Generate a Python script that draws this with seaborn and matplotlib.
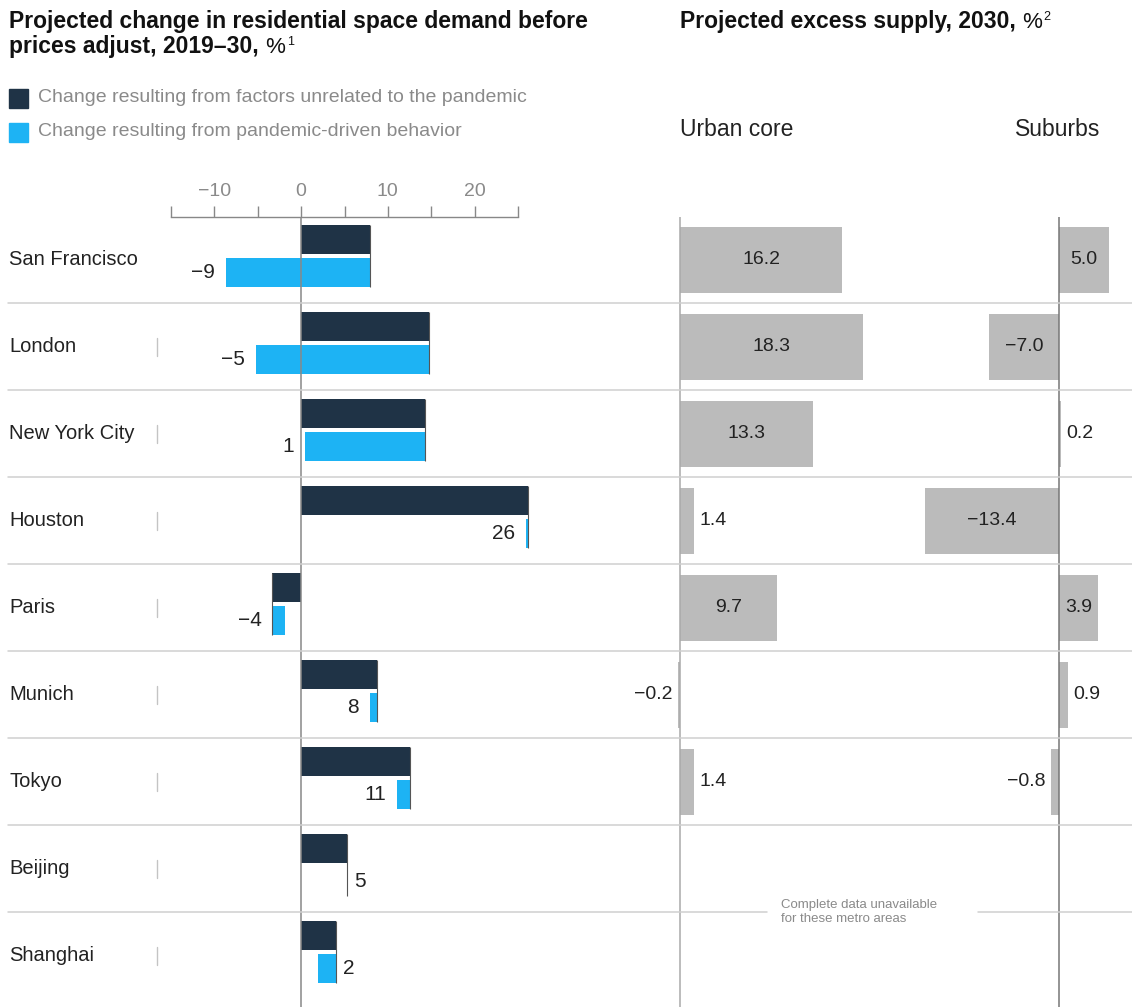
import numpy as np
import pandas as pd
import matplotlib
matplotlib.use("Agg")
import matplotlib.pyplot as plt
import seaborn as sns
from matplotlib.lines import Line2D
from matplotlib.patches import Rectangle
from matplotlib.transforms import blended_transform_factory

# ---- data ----
cities = ["San Francisco", "London", "New York City", "Houston", "Paris",
          "Munich", "Tokyo", "Beijing", "Shanghai"]
# change from factors unrelated to the pandemic (end of dark bar), %
base_change = [7.9, 14.7, 14.3, 26.2, -3.3, 8.7, 12.6, 5.3, 4.0]
# pandemic-driven bar, left and right ends, %
pandemic_lo = [-8.7, -5.2, 0.5, 25.9, -3.3, 7.9, 11.1, 5.3, 2.0]
pandemic_hi = [7.9, 14.7, 14.3, 26.2, -1.9, 8.7, 12.6, 5.3, 4.0]
net_labels = ["\u22129", "\u22125", "1", "26", "\u22124", "8", "11", "5", "2"]
net_label_side = ["l", "l", "l", "l", "l", "l", "l", "r", "r"]
# projected excess supply 2030, %
urban_core = [16.2, 18.3, 13.3, 1.4, 9.7, -0.2, 1.4, np.nan, np.nan]
suburbs = [5.0, -7.0, 0.2, -13.4, 3.9, 0.9, -0.8, np.nan, np.nan]

DARK = "#1f3346"
BLUE = "#1db3f4"
GREY = "#bbbbbb"
TXT = "#222222"
MUTED = "#8a8a8a"

W, H = 1132, 1007
sns.set_theme(style="white")
plt.rcParams["font.family"] = ["Liberation Sans", "DejaVu Sans"]

fig = plt.figure(figsize=(W / 100, H / 100), dpi=100)


def box(x0, y0, x1, y1):
    return [x0 / W, 1 - y1 / H, (x1 - x0) / W, (y1 - y0) / H]


row_top = 216.5
row_h = 87.0
y_bottom = -0.5 + (H - row_top) / row_h

ax = fig.add_axes(box(171, row_top, 518, H))
ax_u = fig.add_axes(box(560, row_top, 1050, H))
ax_s = fig.add_axes(box(880, row_top, 1132, H))

ypos = np.arange(len(cities))
lo = np.array(pandemic_lo)
hi = np.array(pandemic_hi)
base = np.array(base_change)

# ---- left panel ----
ax.barh(ypos - 0.236, base, height=0.333, color=DARK, linewidth=0, zorder=2, clip_on=False)
ax.barh(ypos + 0.144, hi - lo, left=lo, height=0.333, color=BLUE, linewidth=0,
        zorder=2, clip_on=False)
ax.vlines(base, ypos - 0.236 - 0.1665, ypos + 0.144 + 0.1665,
          color="#555555", lw=0.8, zorder=3, clip_on=False)
ax.axvline(0, color="#888888", lw=1.1, zorder=4)
for k, (lab, side) in enumerate(zip(net_labels, net_label_side)):
    if side == "l":
        ax.annotate(lab, (lo[k], k + 0.144), xytext=(-8, 0), textcoords="offset points",
                    ha="right", va="center", fontsize=15, color=TXT, annotation_clip=False)
    else:
        ax.annotate(lab, (hi[k], k + 0.144), xytext=(5, 0), textcoords="offset points",
                    ha="left", va="center", fontsize=15, color=TXT, annotation_clip=False)

ax.set_xlim(-15, 25)
ax.set_ylim(y_bottom, -0.5)
ax.xaxis.tick_top()
ax.set_xticks([-10, 0, 10, 20])
ax.set_xticklabels(["\u221210", "0", "10", "20"])
ax.set_xticks([-15, -5, 5, 15, 25], minor=True)
ax.tick_params(axis="x", which="both", direction="out", length=8, width=1,
               color="#888888", labelcolor=MUTED, labelsize=14, pad=4,
               top=True, bottom=False, labeltop=True, labelbottom=False)
ax.set_yticks([])
for s in ["left", "right", "bottom"]:
    ax.spines[s].set_visible(False)
ax.spines["top"].set_color("#888888")
ax.spines["top"].set_linewidth(1)
ax.set_facecolor("none")

# ---- right panels ----
df = pd.DataFrame({"city": cities, "urban": urban_core, "suburbs": suburbs})
for a, col, xl, axcol in [(ax_u, "urban", (-12, 37), "#aaaaaa"),
                          (ax_s, "suburbs", (-17.9, 7.3), "#777777")]:
    sub = df.dropna(subset=[col])
    sns.barplot(data=sub, x=col, y="city", order=cities, orient="h", color=GREY,
                saturation=1, width=0.76, errorbar=None, linewidth=0, ax=a)
    a.axvline(0, color=axcol, lw=1.1, zorder=3)
    a.set_xlim(*xl)
    a.set_ylim(y_bottom, -0.5)
    a.set_axis_off()
    for k, v in enumerate(df[col]):
        if np.isnan(v):
            continue
        if abs(v) >= 3.5:
            a.text(v / 2, k, f"{v:.1f}".replace("-", "\u2212"), ha="center", va="center",
                   fontsize=14, color=TXT)
        else:
            a.annotate(f"{v:.1f}".replace("-", "\u2212"), (v, k),
                       xytext=(4 if v >= 0 else -4, 0), textcoords="offset points",
                       ha="left" if v >= 0 else "right", va="center",
                       fontsize=14, color=TXT)

# ---- row labels, separators, tick marks ----
tr = blended_transform_factory(fig.transFigure, ax.transData)
for k, c in enumerate(cities):
    ax.text(9 / W, k, c, transform=tr, ha="left", va="center", fontsize=14.5, color=TXT)
    if k > 0:
        fig.add_artist(Line2D([157 / W, 157 / W], [k - 0.1, k + 0.1], transform=tr,
                              color="#c4c4c4", lw=1))
for k in range(len(cities) - 1):
    yb = k + 0.5
    segs = [(8, 767), (978, W)] if k == len(cities) - 2 else [(8, W)]
    for a0, b0 in segs:
        fig.add_artist(Line2D([a0 / W, b0 / W], [yb, yb], transform=tr,
                              color="#cfcfcf", lw=1.1, zorder=1))

fig.text(781 / W, 1 - 912 / H, "Complete data unavailable\nfor these metro areas",
         ha="left", va="center", fontsize=9.5, color=MUTED, linespacing=1.3)

# ---- titles and legend ----
renderer = fig.canvas.get_renderer()


def run(x_px, base_px, pieces):
    x = x_px
    for txt, size, weight, rise in pieces:
        t = fig.text(x / W, 1 - (base_px - rise) / H, txt, fontsize=size,
                     fontweight=weight, color="#111111", ha="left", va="baseline")
        x = t.get_window_extent(renderer=renderer).x1 + 1


run(9, 28, [("Projected change in residential space demand before", 16.5, "bold", 0)])
run(9, 53, [("prices adjust, 2019\u201330,", 16.5, "bold", 0),
            (" %", 16, "normal", 0), ("1", 9, "normal", 8)])
run(680, 28, [("Projected excess supply, 2030,", 16.5, "bold", 0),
              (" %", 16, "normal", 0), ("2", 9, "normal", 8)])

for i, (col, lab) in enumerate([(DARK, "Change resulting from factors unrelated to the pandemic"),
                                (BLUE, "Change resulting from pandemic-driven behavior")]):
    yc = 98 + 34 * i
    fig.add_artist(Rectangle((9 / W, 1 - (yc + 9.5) / H), 19 / W, 19 / H,
                             transform=fig.transFigure, color=col))
    fig.text(38 / W, 1 - yc / H, lab, ha="left", va="center", fontsize=14, color=MUTED)

fig.text(680 / W, 1 - 130 / H, "Urban core", ha="left", va="center", fontsize=16.5, color=TXT)
fig.text(1100 / W, 1 - 130 / H, "Suburbs", ha="right", va="center", fontsize=16.5, color=TXT)

fig.savefig("out.png", dpi=100, facecolor="white")
